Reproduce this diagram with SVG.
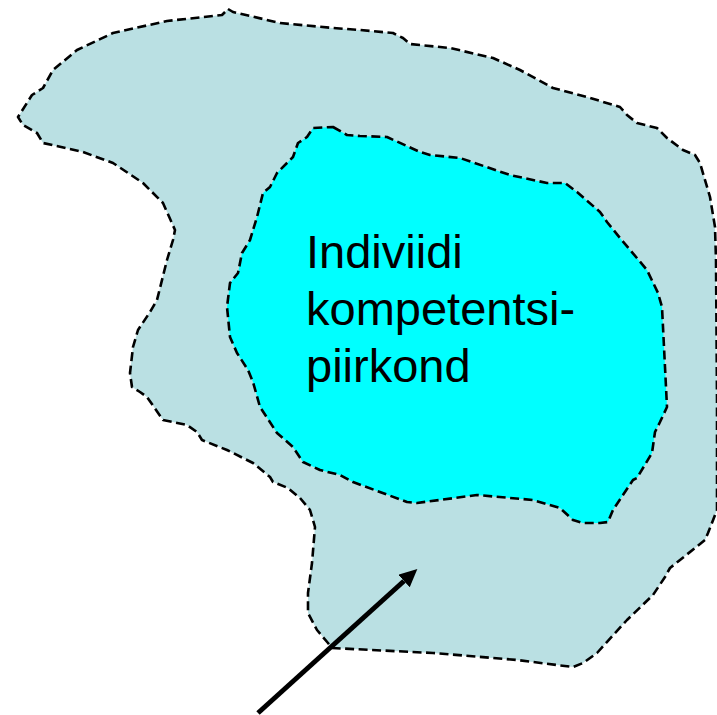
<svg xmlns="http://www.w3.org/2000/svg" width="717" height="715" viewBox="0 0 717 715">
<style>
.region{stroke:#000;stroke-width:2.6;stroke-dasharray:9 4.5;stroke-linejoin:round;stroke-linecap:butt}
.outer{fill:#BAE0E3}
.inner{fill:#00FFFF}
.label{font-family:"Liberation Sans",Arial,sans-serif;font-size:47px;fill:#000}
.conn{stroke:#000;stroke-width:5;fill:none}
</style>
<defs>
<marker id="ah" markerWidth="18" markerHeight="17" refX="0" refY="8.5" orient="auto" markerUnits="userSpaceOnUse">
<path d="M0,0 L18,8.5 L0,17 Z" fill="#000"/>
</marker>
</defs>
<rect width="717" height="715" fill="#fff"/>
<g id="outer-region">
<path class="region outer" d="M228,9 L233,12 L280,23 L333,28 L360,30 L393,33 L403,38 L410,44 L450,48 L493,58 L520,70 L553,88 L587,97 L620,107 L627,115 L637,123 L657,128 L667,138 L683,150 L695,155 L700,163 L710,197 L715,227 L716,260 L717,400 L717,510 L708,533 L705,540 L670,568 L665,577 L653,595 L627,620 L597,653 L583,663 L573,667 L517,660 L433,653 L332,648 L328,643 L317,630 L308,613 L308,593 L312,563 L315,527 L310,510 L300,498 L288,488 L273,482 L270,477 L253,463 L227,450 L202,440 L197,432 L187,425 L163,420 L147,397 L140,392 L132,387 L130,373 L133,347 L138,330 L150,312 L157,300 L167,260 L173,240 L175,230 L163,203 L143,183 L113,163 L83,152 L43,143 L37,133 L23,125 L18,117 L32,95 L43,88 L53,70 L77,50 L113,33 L167,21 L222,15 Z"/>
</g>
<g id="inner-region">
<path class="region inner" d="M333,127 L347,135 L360,136 L387,137 L420,152 L430,155 L460,158 L510,175 L547,183 L565,183 L577,192 L600,212 L607,222 L620,238 L647,270 L658,293 L662,307 L665,367 L667,407 L660,422 L655,432 L652,453 L637,478 L633,480 L613,510 L608,522 L600,523 L583,523 L573,520 L560,508 L533,500 L477,495 L417,503 L407,502 L353,482 L340,475 L320,470 L303,462 L293,447 L277,433 L260,407 L253,382 L248,370 L237,353 L230,337 L227,307 L230,283 L238,273 L242,253 L250,240 L257,217 L263,193 L270,187 L277,173 L293,157 L298,143 L307,137 L313,128 Z"/>
<text class="label" x="306" y="268">Indiviidi</text>
<text class="label" x="306" y="325">kompetentsi-</text>
<text class="label" x="306" y="382">piirkond</text>
</g>
<g id="connectors">
<line class="conn" x1="258" y1="713" x2="404" y2="581" marker-end="url(#ah)"/>
</g>
</svg>
